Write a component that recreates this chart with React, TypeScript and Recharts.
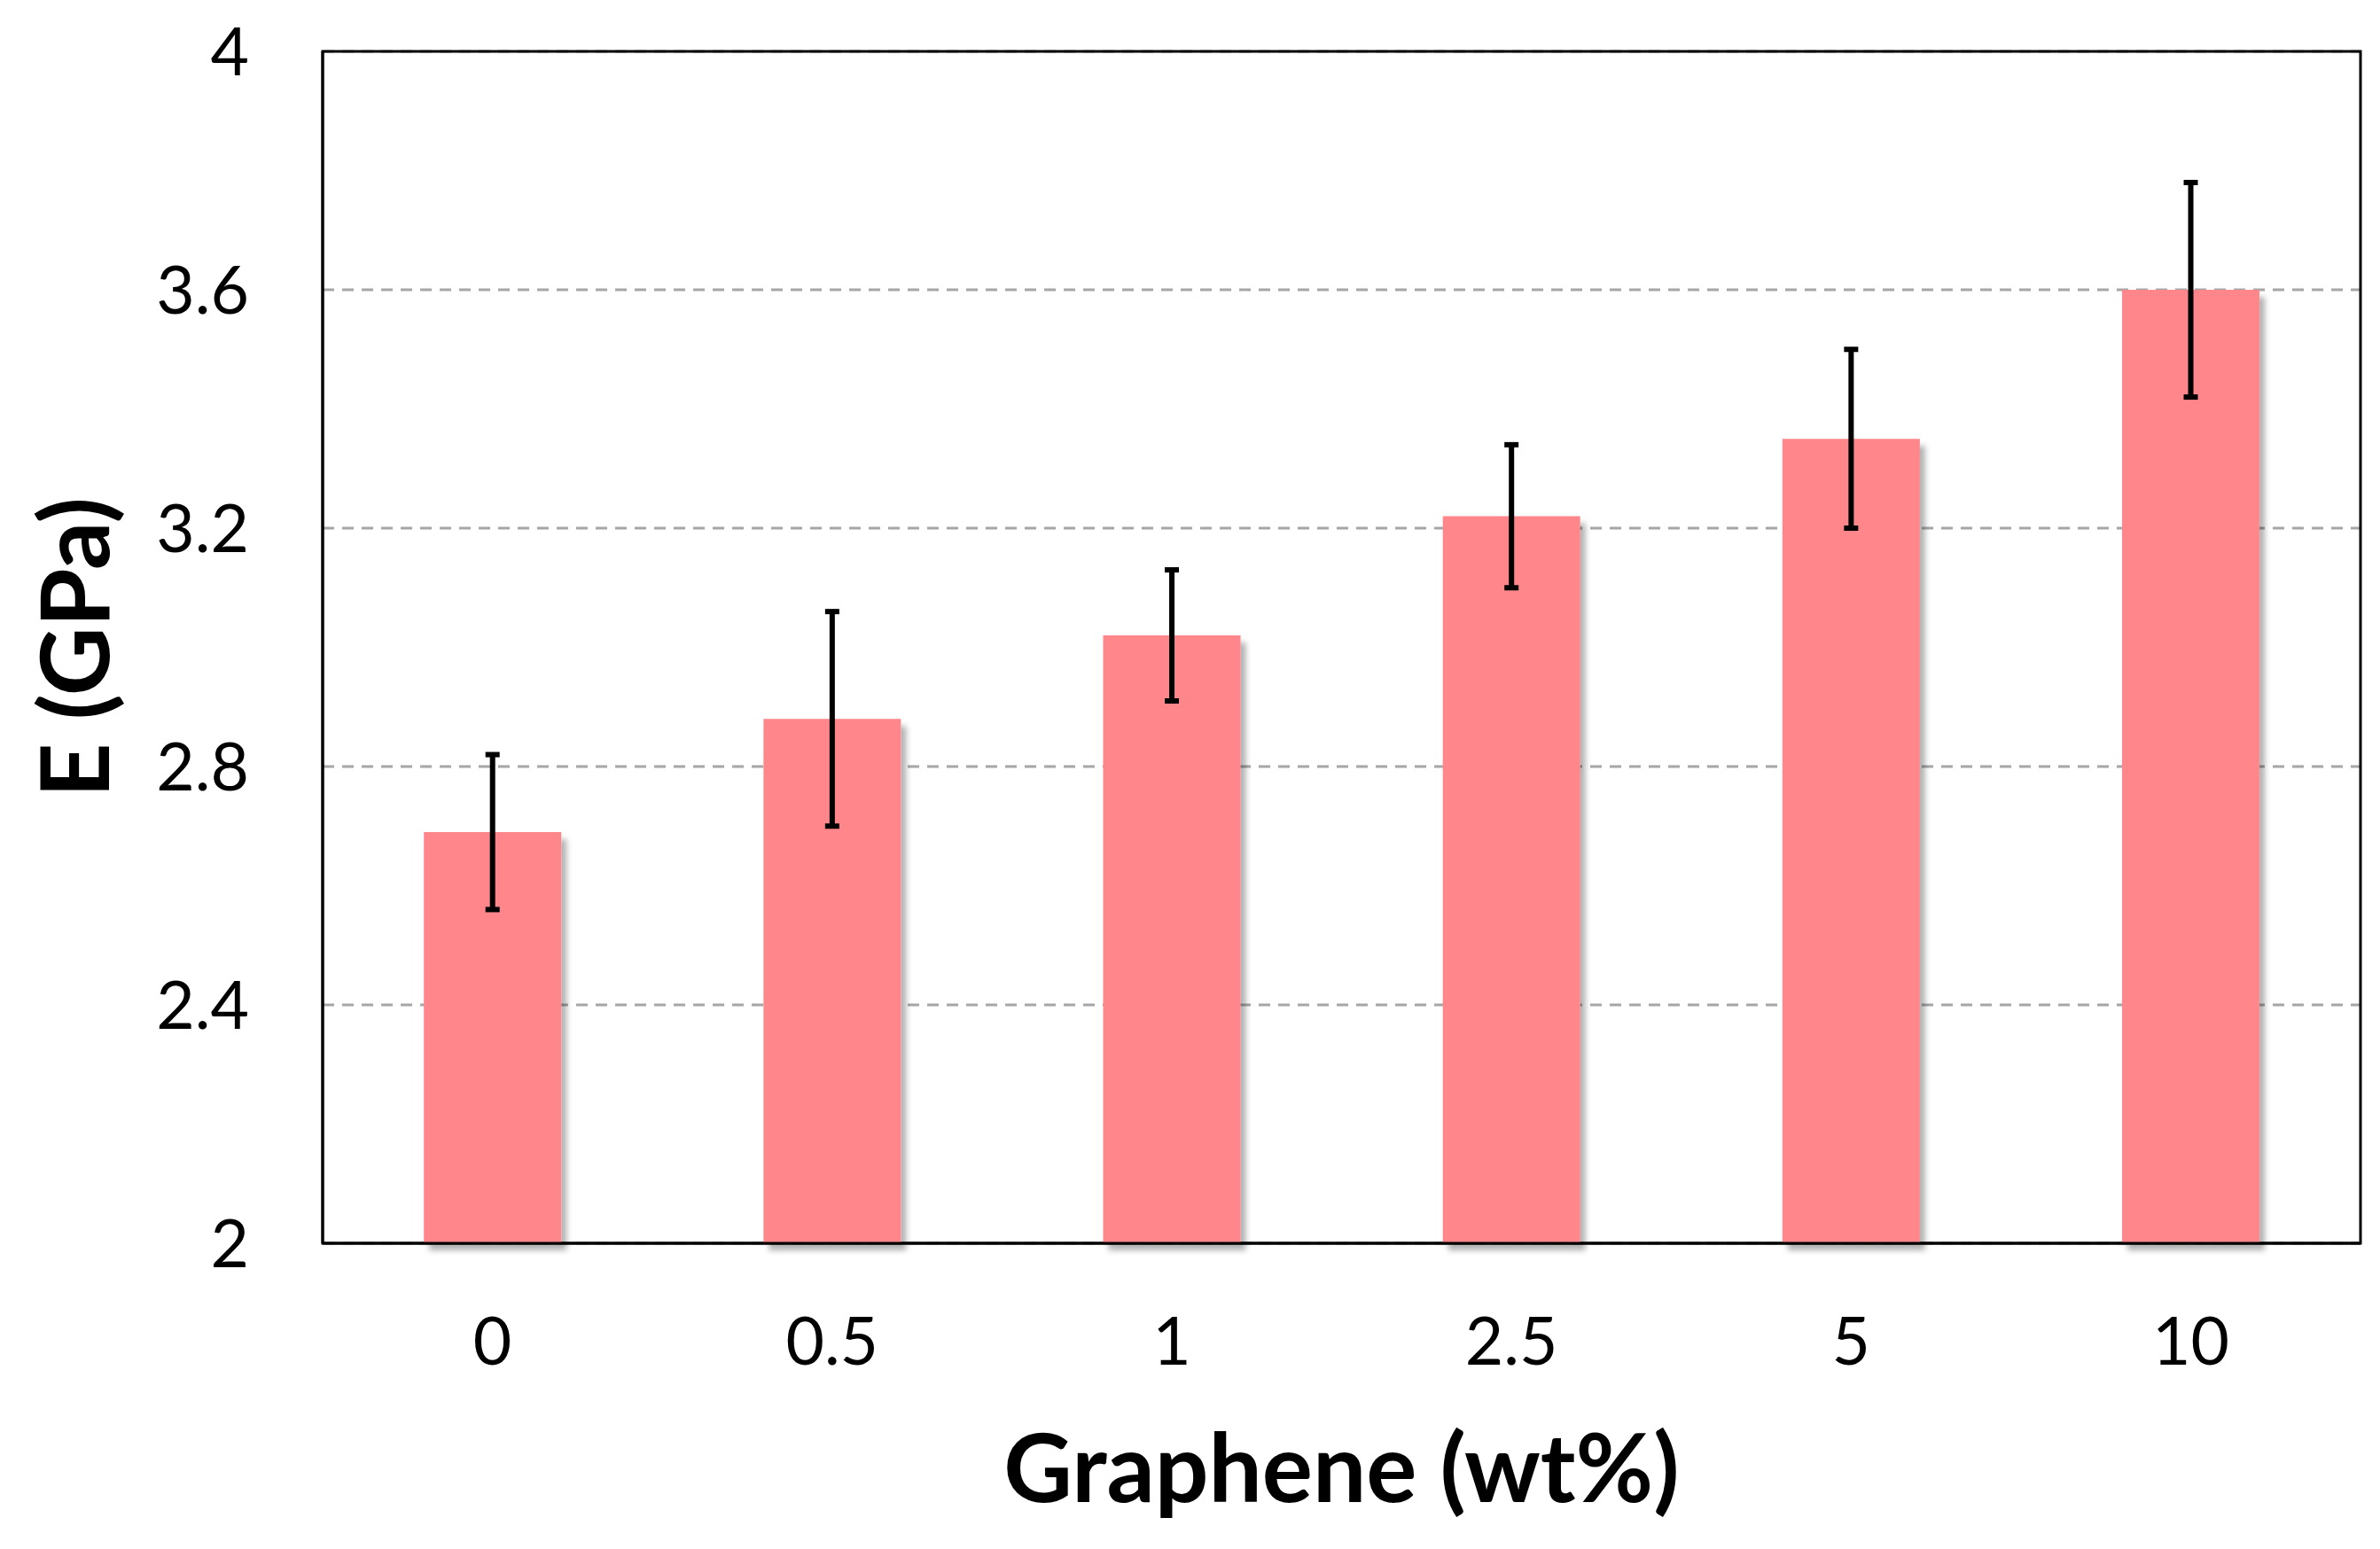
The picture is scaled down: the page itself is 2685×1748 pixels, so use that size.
import { BarChart, Bar, XAxis, YAxis, CartesianGrid, ErrorBar, Rectangle, ReferenceArea } from 'recharts';

// Young's modulus vs graphene loading
const loadings = ['0', '0.5', '1', '2.5', '5', '10'];
const modulus = [2.69, 2.88, 3.02, 3.22, 3.35, 3.6];
const modulusErr = [0.13, 0.18, 0.11, 0.12, 0.15, 0.18];
const yTicks = [2, 2.4, 2.8, 3.2, 3.6, 4];

const data = loadings.map((wt, i) => ({ wt, E: modulus[i], err: modulusErr[i] }));

const FONT = 'Lato, "Open Sans", sans-serif';
const tickStyle = { fill: '#000', fontSize: 75, fontFamily: FONT };
const titleStyle = { fill: '#000', fontSize: 107, fontWeight: 700, fontFamily: FONT, textAnchor: 'middle' as const };
const axisLine = { stroke: '#000', strokeWidth: 3 };

const ShadowBar = (props: any) => <Rectangle {...props} filter="url(#barShadow)" />;

const App = () => {
  return (
    <div style={{ width: 2669, height: 1732, fontFamily: FONT, background: '#fff' }}>
      <BarChart
        width={2669}
        height={1732}
        data={data}
        margin={{ top: 50, right: 14, left: 0, bottom: 0 }}
        barCategoryGap="29.8%"
      >
        <defs>
          <filter id="barShadow" x="-10%" y="-10%" width="130%" height="130%">
            <feDropShadow dx="6" dy="8" stdDeviation="3" floodColor="#000" floodOpacity="0.3" />
          </filter>
        </defs>
        <CartesianGrid vertical={false} stroke="#a6a6a6" strokeWidth={3} strokeDasharray="13 9" />
        <XAxis
          dataKey="wt"
          height={337}
          axisLine={axisLine}
          tickLine={false}
          tickSize={0}
          tickMargin={84}
          tick={tickStyle}
          label={{ value: 'Graphene (wt%)', position: 'insideBottom', offset: 45, style: titleStyle }}
        />
        <YAxis
          domain={[2, 4]}
          ticks={yTicks}
          width={356}
          axisLine={axisLine}
          tickLine={false}
          tickSize={0}
          tickMargin={83}
          tick={tickStyle}
          label={{ value: 'E (GPa)', angle: -90, position: 'insideLeft', offset: 77, style: titleStyle }}
        />
        {/* plot frame */}
        <ReferenceArea y1={2} y2={4} fill="none" fillOpacity={0} stroke="#000" strokeWidth={3} />
        <Bar dataKey="E" fill="#ff868a" shape={ShadowBar} isAnimationActive={false}>
          <ErrorBar dataKey="err" width={8} stroke="#000" strokeWidth={6} direction="y" isAnimationActive={false} />
        </Bar>
      </BarChart>
    </div>
  );
};

export default App;
